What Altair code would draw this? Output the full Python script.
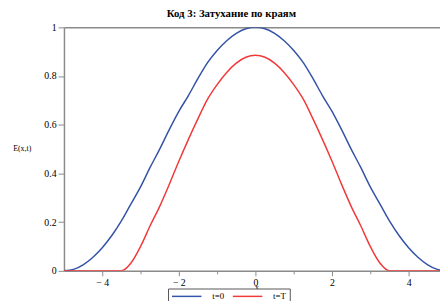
import altair as alt
import pandas as pd

# ---- data ----
x_vals = [-5.0, -4.75, -4.5, -4.25, -4.0, -3.75, -3.5, -3.25, -3.0, -2.75, -2.5,
          -2.25, -2.0, -1.75, -1.5, -1.25, -1.0, -0.75, -0.5, -0.25, 0.0,
          0.25, 0.5, 0.75, 1.0, 1.25, 1.5, 1.75, 2.0, 2.25, 2.5,
          2.75, 3.0, 3.25, 3.5, 3.75, 4.0, 4.25, 4.5, 4.75, 5.0]
blue_vals = [0.0, 0.006, 0.025, 0.055, 0.095, 0.145, 0.205, 0.275, 0.345, 0.425, 0.50,
             0.58, 0.655, 0.72, 0.79, 0.855, 0.905, 0.945, 0.975, 0.994, 1.0,
             0.994, 0.975, 0.945, 0.905, 0.855, 0.79, 0.72, 0.655, 0.58, 0.50,
             0.425, 0.345, 0.275, 0.205, 0.145, 0.095, 0.055, 0.025, 0.006, 0.0]
red_vals = [0.0, 0.0, 0.0, 0.0, 0.0, 0.0, 0.0, 0.032, 0.10, 0.185, 0.265,
            0.355, 0.45, 0.54, 0.625, 0.705, 0.765, 0.815, 0.853, 0.877, 0.885,
            0.877, 0.853, 0.815, 0.765, 0.705, 0.625, 0.54, 0.45, 0.355, 0.265,
            0.185, 0.10, 0.032, 0.0, 0.0, 0.0, 0.0, 0.0, 0.0, 0.0]
series_names = ["t=0", "t=T"]
series_colors = ["#3353a8", "#f03a3a"]
x_ticks = [-4, -3, -2, -1, 0, 1, 2, 3, 4]
y_ticks = [0, 0.1, 0.2, 0.3, 0.4, 0.5, 0.6, 0.7, 0.8, 0.9, 1.0]
title_text = "Код 3: Затухание по краям"

rows = []
for xv, b, r in zip(x_vals, blue_vals, red_vals):
    rows.append({"x": xv, "E": b, "series": series_names[0]})
    rows.append({"x": xv, "E": r, "series": series_names[1]})
df = pd.DataFrame(rows)

FONT = "Liberation Serif"
AX = "#8a8a8a"
W, H = 383, 248

xscale = alt.Scale(domain=[-5, 4.82], nice=False, zero=False)
yscale = alt.Scale(domain=[0, 1], nice=False, zero=False)

x_axis = alt.Axis(
    values=x_ticks,
    labelExpr="datum.value % 2 === 0 ? (datum.value < 0 ? '\u2212 ' + abs(datum.value) : '' + datum.value) : ''",
    tickSize={"condition": {"test": "datum.value % 2 === 0", "value": 5}, "value": 3},
    tickColor=AX, domainColor=AX, domainWidth=1.5, labelFont=FONT, labelFontSize=10,
    labelColor="black", labelPadding=2, grid=False,
    title="x", titleFont=FONT, titleFontSize=8, titleFontWeight="normal",
    titleX=196, titleY=17, titleBaseline="middle", titleAlign="center",
)
y_axis = alt.Axis(
    values=y_ticks,
    labelExpr="round(datum.value * 10) % 2 === 0 ? format(datum.value, '~g') : ''",
    tickSize={"condition": {"test": "round(datum.value * 10) % 2 === 0", "value": 6}, "value": 3},
    tickColor=AX, domainColor=AX, domainWidth=1.5, labelFont=FONT, labelFontSize=10,
    labelColor="black", labelPadding=2, grid=False,
    title="E(x,t)", titleFont=FONT, titleFontSize=8, titleFontWeight="normal",
    titleAngle=0, titleX=-43, titleY=123, titleAlign="center", titleBaseline="middle",
)

lines = alt.Chart(df).mark_line(strokeWidth=1.5, clip=True, interpolate="monotone").encode(
    x=alt.X("x:Q", scale=xscale, axis=x_axis),
    y=alt.Y("E:Q", scale=yscale, axis=y_axis),
    color=alt.Color(
        "series:N",
        scale=alt.Scale(domain=series_names, range=series_colors),
        legend=alt.Legend(
            orient="none", legendX=106, legendY=266, direction="horizontal", title=None,
            strokeColor="#555", fillColor="white", padding=3,
            symbolType="M-3.75,0H3.75", symbolSize=64, symbolStrokeWidth=1.5,
            symbolOffset=11, labelOffset=21, columnPadding=5,
            labelFont=FONT, labelFontSize=9, labelColor="black",
        ),
    ),
)

top = alt.Chart(df).mark_line(opacity=0).encode(
    x=alt.X("x:Q", scale=xscale,
            axis=alt.Axis(orient="top", labels=False, ticks=False, title=None,
                          domainColor=AX, domainWidth=1.5, grid=False)),
    y=alt.Y("E:Q", scale=yscale),
)

chart = alt.layer(lines, top).resolve_axis(x="independent").properties(
    width=W, height=H,
    padding={"left": 57, "top": 17, "right": 0, "bottom": 28},
    autosize=alt.AutoSizeParams(type="none"),
    title=alt.Title(title_text, font=FONT, fontSize=11, fontWeight="bold",
                    anchor="middle", dx=-21, offset=4, color="black"),
).configure_view(stroke=None)

chart.save("out.html", embed_options={"renderer": "svg", "actions": False})
